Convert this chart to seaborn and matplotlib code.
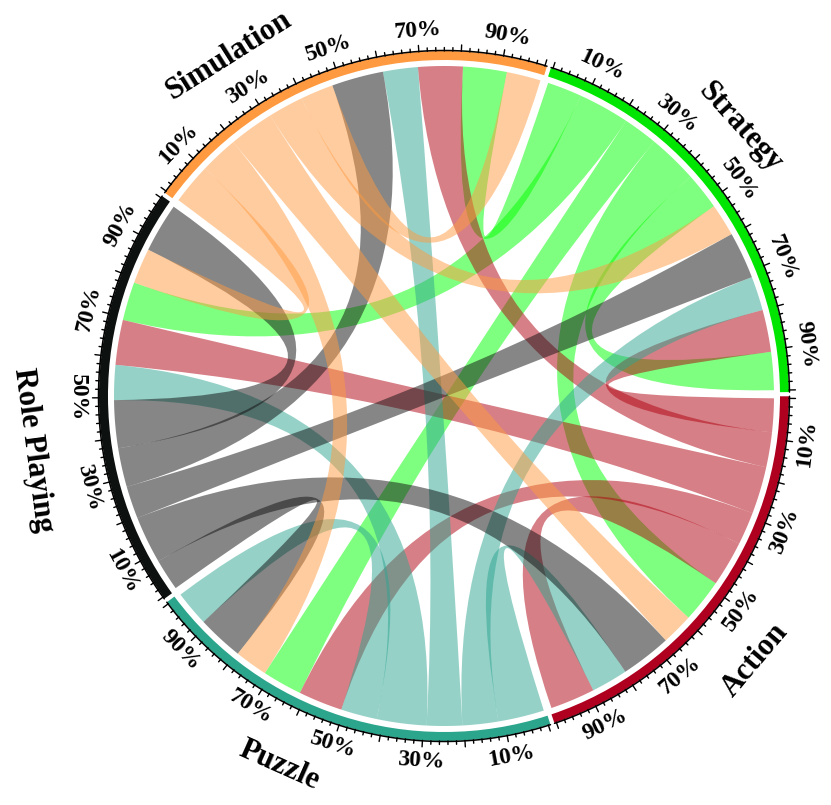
import numpy as np
import matplotlib
matplotlib.use("Agg")
import matplotlib.pyplot as plt
import seaborn as sns
from matplotlib.path import Path
from matplotlib.patches import PathPatch, Wedge

# sectors in clockwise order, starting at the top
sectors = ["Strategy", "Action", "Puzzle", "Role Playing", "Simulation"]
sector_colors = ["#00E600", "#AF0020", "#2CA58D", "#0D110F", "#FF9A40"]
link_colors = ["#00FF00", "#AF000F", "#2DA591", "#0F0F0F", "#FF9B41"]

# share (%) of the source sector used by link row -> col
out_share = [
    [9.3, 12.4, 8.6, 12.8, 8.6],
    [8.4, 11.3, 8.2, 11.8, 8.7],
    [8.9, 11.5, 9.0, 12.4, 8.8],
    [8.1, 11.8, 7.9, 11.9, 9.7],
    [8.8, 11.2, 9.5, 10.2, 8.2],
]
# share (%) of the target sector used by link row -> col
in_share = [
    [9.5, 10.8, 9.9, 9.6, 10.9],
    [10.5, 11.2, 11.0, 11.2, 11.1],
    [8.5, 9.1, 8.8, 8.7, 8.7],
    [11.7, 12.6, 11.5, 12.3, 12.9],
    [8.1, 7.9, 8.2, 8.8, 8.5],
]
pct_ticks = [10, 30, 50, 70, 90]
pct_labels = ["10%", "30%", "50%", "70%", "90%"]
name_angles = [42.2, -40.3, -114.0, 187.5, 122.3]
name_radius = [400, 408, 404, 414, 403]

# layout
n = len(sectors)
gap = 1.4
span = 360 / n - gap
first_gap = 72.3
starts = [first_gap - gap / 2 - i * 360 / n for i in range(n)]
R_LINK = 330
R_IN, R_OUT = 336, 345


def ang(i, pct):
    return starts[i] - pct / 100 * span


def arc_pts(a0, a1, r, num=60):
    t = np.radians(np.linspace(a0, a1, num))
    return np.column_stack([r * np.cos(t), r * np.sin(t)])


def ribbon(a0, a1, b0, b1):
    pa = arc_pts(a0, a1, R_LINK)
    pb = arc_pts(b0, b1, R_LINK)
    verts = list(pa)
    codes = [Path.MOVETO] + [Path.LINETO] * (len(pa) - 1)
    verts += [(0, 0), pb[0]]
    codes += [Path.CURVE3, Path.CURVE3]
    verts += list(pb[1:])
    codes += [Path.LINETO] * (len(pb) - 1)
    verts += [(0, 0), pa[0], pa[0]]
    codes += [Path.CURVE3, Path.CURVE3, Path.CLOSEPOLY]
    return Path(verts, codes)


def rot(a):
    return a - 90 if np.sin(np.radians(a)) > 1e-6 else a + 90


# position of every link end inside its sector (percent)
out_pos, in_pos = {}, {}
for i in range(n):
    total = sum(out_share[i]) + sum(in_share[k][i] for k in range(n))
    order = [(i - d) % n for d in range(1, n)] + [i]
    cur = 0.0
    for k in order:
        w = out_share[i][k] / total * 100
        out_pos[(i, k)] = (cur, cur + w)
        cur += w
    for k in order:
        w = in_share[k][i] / total * 100
        in_pos[(k, i)] = (cur, cur + w)
        cur += w

sns.set_theme(style="white")
plt.rcParams["font.family"] = ["Liberation Serif", "DejaVu Serif"]
plt.rcParams["text.color"] = "black"

fig = plt.figure(figsize=(8.31, 8.05), dpi=100)
ax = fig.add_axes([0, 0, 1, 1])
ax.set_xlim(-444, 387)
ax.set_ylim(-409, 396)
ax.set_aspect("equal")
ax.axis("off")

# links
for i in range(n):
    for k in range(n):
        s0, s1 = out_pos[(i, k)]
        t0, t1 = in_pos[(i, k)]
        p = ribbon(ang(i, s0), ang(i, s1), ang(k, t0), ang(k, t1))
        ax.add_patch(PathPatch(p, facecolor=link_colors[i], edgecolor="none", alpha=0.5))

# outer ring, axis line, ticks and labels
for i in range(n):
    a_start, a_end = ang(i, 0), ang(i, 100)
    ax.add_patch(Wedge((0, 0), R_OUT, a_end - 0.35, a_start + 0.35,
                       width=R_OUT - R_IN, facecolor=sector_colors[i], edgecolor="none"))
    line = arc_pts(a_start + 0.35, a_end - 0.35, R_OUT + 0.5, 120)
    ax.plot(line[:, 0], line[:, 1], color="black", lw=1.1)
    for p in range(0, 101, 2):
        a = np.radians(ang(i, p))
        ln = 6.5 if p % 10 == 0 else 3.5
        ax.plot([R_OUT * np.cos(a), (R_OUT + ln) * np.cos(a)],
                [R_OUT * np.sin(a), (R_OUT + ln) * np.sin(a)],
                color="black", lw=1.0)
    for p, lab in zip(pct_ticks, pct_labels):
        a = ang(i, p)
        ar = np.radians(a)
        ax.text(366 * np.cos(ar), 366 * np.sin(ar), lab, rotation=rot(a),
                ha="center", va="center", fontsize=17, fontweight="bold",
                color="black", rotation_mode="anchor")
    a = name_angles[i]
    ar = np.radians(a)
    ax.text(name_radius[i] * np.cos(ar), name_radius[i] * np.sin(ar), sectors[i],
            rotation=rot(a), ha="center", va="center", fontsize=22,
            fontweight="bold", color="black", rotation_mode="anchor")

fig.savefig("out.png", dpi=100)
